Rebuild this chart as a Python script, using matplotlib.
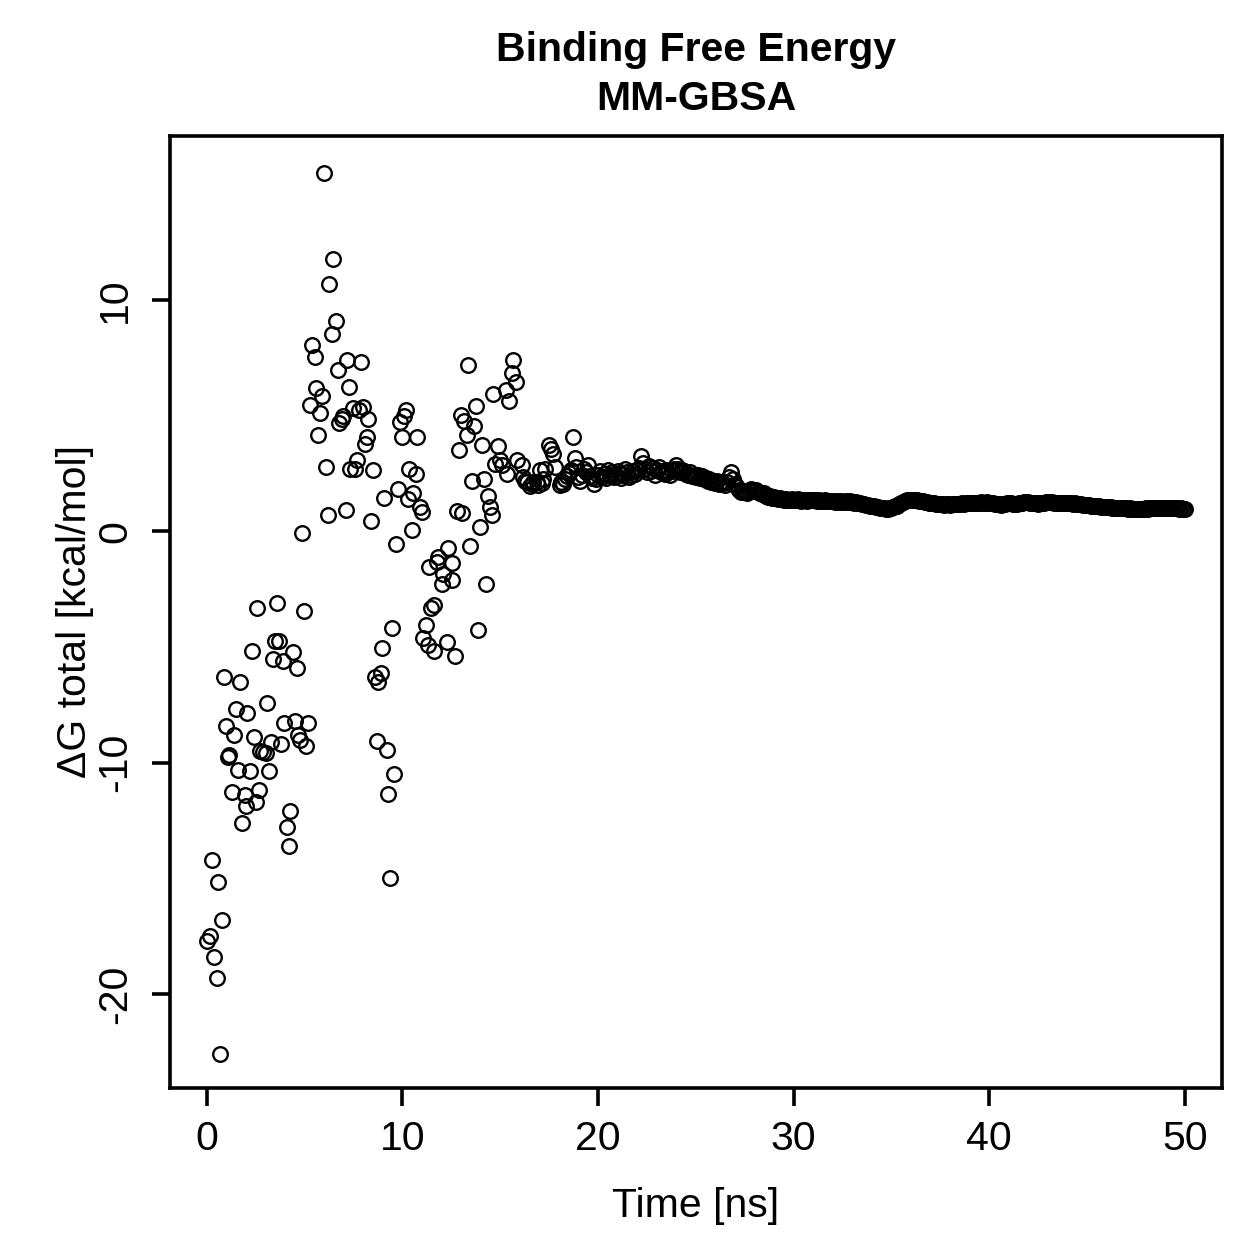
import numpy as np
from matplotlib import pyplot as plt

plt.rcParams['font.family'] = ['Liberation Sans', 'DejaVu Sans']
plt.rcParams['axes.unicode_minus'] = False

# early frames (0-18 ns): time [ns] and dG [kcal/mol]
early_t = [0.00, 0.18, 0.29, 0.37, 0.50, 0.58, 0.68, 0.78, 0.89, 0.97,
           1.09, 1.14, 1.29, 1.40, 1.48, 1.60, 1.69, 1.78, 1.94, 1.98,
           2.08, 2.20, 2.29, 2.39, 2.51, 2.59, 2.68, 2.71, 2.88, 3.02,
           3.09, 3.17, 3.28, 3.39, 3.48, 3.60, 3.70, 3.79, 3.90, 3.96,
           4.08, 4.18, 4.28, 4.39, 4.50, 4.59, 4.67, 4.76, 4.85, 4.98,
           5.07, 5.15, 5.30, 5.37, 5.53, 5.58, 5.70, 5.78, 5.87, 5.99,
           6.09, 6.21, 6.26, 6.38, 6.46, 6.60, 6.69, 6.77, 6.89, 6.98,
           7.10, 7.18, 7.28, 7.32, 7.49, 7.57, 7.66, 7.79, 7.87, 8.00,
           8.09, 8.17, 8.25, 8.38, 8.48, 8.60, 8.68, 8.77, 8.89, 8.97,
           9.07, 9.20, 9.28, 9.37, 9.48, 9.57, 9.67, 9.79, 9.88, 9.96,
           10.08, 10.17, 10.27, 10.35, 10.48, 10.56, 10.70, 10.76, 10.90, 10.99,
           11.07, 11.21, 11.31, 11.36, 11.46, 11.62, 11.64, 11.77, 11.82, 12.03,
           12.08, 12.27, 12.33, 12.52, 12.56, 12.69, 12.78, 12.90, 12.98, 13.07,
           13.15, 13.29, 13.37, 13.46, 13.58, 13.66, 13.77, 13.88, 13.97, 14.09,
           14.18, 14.28, 14.37, 14.48, 14.57, 14.65, 14.74, 14.88, 14.99, 15.08,
           15.30, 15.34, 15.46, 15.59, 15.68, 15.80, 15.88, 16.11, 16.15, 16.25,
           16.36, 16.50, 16.62, 16.70, 16.87, 16.95, 17.04, 17.15, 17.21, 17.30,
           17.47, 17.59, 17.72, 17.81, 18.07]
early_dg = [-17.7, -17.5, -14.2, -18.4, -19.3, -15.15, -22.6, -16.8, -6.3, -8.4,
            -9.77, -9.65, -11.25, -8.8, -7.7, -10.3, -6.5, -12.6, -11.4, -11.86,
            -7.85, -10.35, -5.15, -8.9, -11.7, -3.3, -11.2, -9.5, -9.55, -9.6,
            -7.4, -10.35, -9.1, -5.5, -4.76, -3.1, -4.76, -9.2, -5.6, -8.3,
            -12.8, -13.6, -12.1, -5.2, -8.2, -5.9, -8.8, -9.0, -0.05, -3.45,
            -9.3, -8.3, 5.45, 8.05, 7.55, 6.22, 4.19, 5.1, 5.84, 15.5,
            2.78, 0.72, 10.7, 8.55, 11.8, 9.1, 6.97, 4.69, 4.84, 5.0,
            0.91, 7.43, 6.25, 2.71, 5.35, 2.71, 3.1, 5.27, 7.33, 5.4,
            3.77, 4.1, 4.88, 0.45, 2.64, -6.28, -9.08, -6.52, -6.12, -5.05,
            1.44, -9.44, -11.36, -15.0, -4.17, -10.5, -0.53, 1.85, 4.73, 4.1,
            5.0, 5.24, 1.41, 2.71, 0.07, 1.66, 2.5, 4.1, 1.05, 0.84,
            -4.6, -4.05, -4.9, -1.54, -3.3, -3.2, -5.15, -1.33, -1.1, -2.27,
            -1.83, -4.79, -0.7, -2.12, -1.35, -5.37, 0.87, 3.5, 5.02, 0.79,
            4.78, 4.16, 7.19, -0.61, 2.18, 4.56, 5.41, -4.26, 0.19, 3.72,
            2.25, -2.27, 1.53, 1.05, 0.69, 5.96, 2.93, 3.68, 3.07, 2.86,
            6.13, 2.5, 5.63, 6.85, 7.4, 6.46, 3.07, 2.86, 2.35, 2.2,
            2.13, 1.95, 2.06, 2.15, 2.13, 2.0, 2.64, 2.1, 2.28, 2.71,
            3.72, 3.58, 3.36, 2.78, 1.99]

# later frames, one every 0.1 ns from 18.1 to 50.0 ns
late_start = 18.1
late_dg = [
    2.13, 2.05, 2.28, 2.40, 2.52, 2.64, 4.08, 3.19, 2.78, 2.35,
    2.20, 2.45, 2.71, 2.55, 2.86, 2.40, 2.30, 2.06, 2.25, 2.45,
    2.60, 2.35, 2.50, 2.30, 2.65, 2.45, 2.55, 2.35, 2.40, 2.60,
    2.50, 2.30, 2.45, 2.70, 2.55, 2.35, 2.45, 2.60, 2.50, 2.65,
    2.75, 3.25, 2.95, 2.70, 2.55, 2.85, 2.60, 2.75, 2.45, 2.65,
    2.80, 2.55, 2.60, 2.50, 2.65, 2.55, 2.45, 2.60, 2.70, 2.86,
    2.70, 2.55, 2.65, 2.60, 2.50, 2.45, 2.55, 2.40, 2.45, 2.35,
    2.45, 2.30, 2.40, 2.25, 2.30, 2.20, 2.25, 2.15, 2.20, 2.10,
    2.20, 2.05, 2.15, 2.10, 2.00, 2.15, 2.35, 2.57, 2.25, 2.05,
    1.90, 1.80, 1.70, 1.75, 1.70, 1.65, 1.75, 1.85, 1.80, 1.75,
    1.80, 1.70, 1.65, 1.60, 1.65, 1.55, 1.50, 1.55, 1.45, 1.50,
    1.45, 1.40, 1.45, 1.40, 1.35, 1.40, 1.38, 1.35, 1.40, 1.38,
    1.35, 1.40, 1.36, 1.33, 1.38, 1.35, 1.32, 1.36, 1.34, 1.38,
    1.35, 1.32, 1.36, 1.33, 1.30, 1.34, 1.31, 1.33, 1.30, 1.32,
    1.29, 1.31, 1.28, 1.30, 1.27, 1.29, 1.31, 1.28, 1.30, 1.27,
    1.25, 1.28, 1.24, 1.22, 1.20, 1.18, 1.16, 1.14, 1.12, 1.10,
    1.08, 1.06, 1.05, 1.03, 1.02, 1.00, 0.99, 0.98, 1.00, 1.02,
    1.05, 1.08, 1.12, 1.17, 1.22, 1.27, 1.31, 1.34, 1.35, 1.36,
    1.35, 1.36, 1.34, 1.33, 1.32, 1.30, 1.28, 1.27, 1.25, 1.24,
    1.22, 1.21, 1.20, 1.18, 1.17, 1.18, 1.16, 1.17, 1.18, 1.16,
    1.17, 1.19, 1.18, 1.20, 1.19, 1.21, 1.20, 1.22, 1.21, 1.23,
    1.22, 1.24, 1.23, 1.25, 1.24, 1.26, 1.25, 1.24, 1.26, 1.25,
    1.24, 1.22, 1.20, 1.18, 1.17, 1.16, 1.18, 1.20, 1.22, 1.23,
    1.21, 1.19, 1.18, 1.20, 1.22, 1.24, 1.25, 1.26, 1.27, 1.26,
    1.25, 1.24, 1.22, 1.21, 1.20, 1.21, 1.23, 1.25, 1.27, 1.28,
    1.27, 1.26, 1.25, 1.24, 1.25, 1.24, 1.23, 1.24, 1.22, 1.23,
    1.21, 1.22, 1.20, 1.21, 1.19, 1.18, 1.17, 1.16, 1.15, 1.14,
    1.13, 1.12, 1.11, 1.10, 1.09, 1.08, 1.07, 1.06, 1.06, 1.05,
    1.04, 1.04, 1.03, 1.03, 1.02, 1.02, 1.01, 1.01, 1.00, 1.00,
    0.99, 1.00, 0.99, 0.98, 0.99, 0.98, 0.99, 0.98, 0.99, 1.00,
    0.99, 1.00, 1.01, 1.00, 1.01, 1.02, 1.01, 1.02, 1.01, 1.02,
    1.01, 1.02, 1.01, 1.00, 1.01, 1.00, 0.99, 1.00, 0.99, 0.98,
]

x_ticks = [0, 10, 20, 30, 40, 50]
y_ticks = [-20, -10, 0, 10]

late_t = late_start + 0.1 * np.arange(len(late_dg))
time = np.concatenate([early_t, late_t])
dg = np.concatenate([early_dg, late_dg])

W = 1259
fig = plt.figure(figsize=(W / 100, W / 100), dpi=100)
ax = fig.add_axes([170 / W, 1 - 1088 / W, (1222 - 170) / W, (1088 - 136) / W])

ax.plot(time, dg, linestyle='none', marker='o', markersize=10.5,
        markerfacecolor='none', markeredgecolor='black', markeredgewidth=1.7)

ax.set_xlim(-1.88, 51.9)
ax.set_ylim(-24.07, 17.1)
ax.set_xticks(x_ticks)
ax.set_yticks(y_ticks)
ax.tick_params(axis='both', length=13, width=2.6, labelsize=29.5, direction='out')
ax.tick_params(axis='x', pad=10)
ax.tick_params(axis='y', pad=13)
for lab in ax.get_yticklabels():
    lab.set_rotation(90)
    lab.set_verticalalignment('center')
for side in ax.spines.values():
    side.set_linewidth(2.6)

fig.text(696 / W, 1 - 61 / W, "Binding Free Energy", ha='center', va='baseline',
         fontsize=29.5, fontweight='bold')
fig.text(696 / W, 1 - 110 / W, "MM-GBSA", ha='center', va='baseline',
         fontsize=29.5, fontweight='bold')
fig.text(696 / W, 1 - 1217 / W, "Time [ns]", ha='center', va='baseline', fontsize=29.5)
fig.text(86 / W, 1 - 611 / W, "ΔG total [kcal/mol]", ha='center', va='baseline',
         rotation=90, rotation_mode='anchor', fontsize=29.5)

fig.savefig("out.png", dpi=100)
